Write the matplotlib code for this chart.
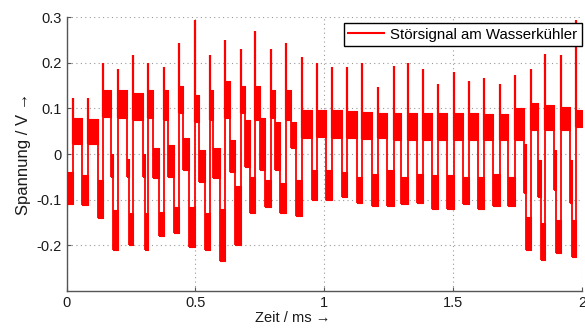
import matplotlib
matplotlib.use("Agg")
import matplotlib.pyplot as plt
from matplotlib.lines import Line2D

plt.rcParams['font.family'] = ['Liberation Sans', 'DejaVu Sans']

# ---- data (time in ms, voltage in V) ----
start_band = (-0.11, -0.04)            # low band before first spike
spike_t = [0.024, 0.082, 0.140, 0.201, 0.259, 0.318, 0.378, 0.436, 0.497, 0.555,
           0.614, 0.675, 0.733, 0.792, 0.851, 0.912, 0.970, 1.029, 1.089, 1.148,
           1.208, 1.269, 1.324, 1.384, 1.443, 1.503, 1.563, 1.621, 1.681, 1.741,
           1.800, 1.858, 1.919, 1.978]
spike_peak = [0.122, 0.122, 0.199, 0.186, 0.218, 0.200, 0.192, 0.243, 0.295, 0.218,
              0.250, 0.230, 0.269, 0.230, 0.243, 0.212, 0.200, 0.192, 0.192, 0.200,
              0.147, 0.193, 0.200, 0.186, 0.154, 0.181, 0.160, 0.166, 0.154, 0.173,
              0.186, 0.220, 0.218, 0.295]
high_end = [0.062, 0.122, 0.173, 0.236, 0.297, 0.335, 0.393, 0.453, 0.514, 0.570,
            0.636, 0.692, 0.750, 0.808, 0.872, 0.951, 1.006, 1.068, 1.126, 1.186,
            1.244, 1.298, 1.359, 1.419, 1.477, 1.537, 1.595, 1.653, 1.711, 1.775,
            1.830, 1.893, 1.952, 2.000]
high_lo = [0.023, 0.023, 0.082, 0.080, 0.075, 0.080, 0.075, 0.090, 0.070, 0.075,
           0.080, 0.090, 0.075, 0.080, 0.075, 0.035, 0.038, 0.035, 0.035, 0.034,
           0.035, 0.030, 0.030, 0.030, 0.030, 0.030, 0.030, 0.030, 0.030, 0.030,
           0.053, 0.053, 0.053, 0.060]
high_hi = [0.080, 0.076, 0.141, 0.140, 0.133, 0.140, 0.140, 0.150, 0.130, 0.140,
           0.160, 0.150, 0.150, 0.140, 0.140, 0.097, 0.097, 0.097, 0.095, 0.093,
           0.090, 0.090, 0.090, 0.090, 0.090, 0.090, 0.090, 0.088, 0.088, 0.100,
           0.111, 0.107, 0.103, 0.097]
# intermediate step (None = no intermediate step)
mid_end = [None, None, 0.180, 0.242, 0.303, 0.360, 0.417, 0.475, 0.537, 0.595,
           0.653, 0.711, 0.769, 0.827, 0.890, None, None, None, None, None,
           None, None, None, None, None, None, None, None, None, 1.783,
           1.841, 1.899, 1.961, None]
mid_lo = [None, None, -0.050, -0.050, -0.050, -0.053, -0.050, -0.035, -0.061, -0.053,
          -0.040, -0.028, -0.035, -0.035, 0.013, None, None, None, None, None,
          None, None, None, None, None, None, None, None, None, -0.086,
          -0.094, -0.080, -0.108, None]
mid_hi = [None, None, 0.000, -0.010, 0.000, 0.013, 0.020, 0.035, 0.009, 0.013,
          0.030, 0.075, 0.080, 0.070, 0.070, None, None, None, None, None,
          None, None, None, None, None, None, None, None, None, 0.023,
          -0.013, 0.008, -0.013, None]
low_lo = [-0.112, -0.140, -0.211, -0.200, -0.210, -0.180, -0.174, -0.205, -0.210, -0.235,
          -0.200, -0.130, -0.116, -0.130, -0.135, -0.100, -0.100, -0.094, -0.107, -0.115,
          -0.115, -0.110, -0.107, -0.120, -0.120, -0.110, -0.120, -0.115, -0.115, -0.211,
          -0.233, -0.218, -0.225, None]
low_hi = [-0.046, -0.057, -0.123, -0.130, -0.130, -0.127, -0.116, -0.116, -0.130, -0.120,
          -0.070, -0.050, -0.057, -0.064, -0.057, -0.035, -0.035, -0.039, -0.050, -0.043,
          -0.035, -0.050, -0.043, -0.047, -0.047, -0.050, -0.050, -0.043, -0.050, -0.138,
          -0.152, -0.145, -0.145, None]

x_ticks = [0, 0.5, 1, 1.5, 2]
x_ticklabels = ['0', '0.5', '1', '1.5', '2']
y_ticks = [-0.2, -0.1, 0, 0.1, 0.2, 0.3]
y_ticklabels = ['-0.2', '-0.1', '0', '0.1', '0.2', '0.3']

RED = '#ff0000'

fig = plt.figure(figsize=(5.85, 3.29), dpi=100)
ax = fig.add_axes([0.1137, 0.1164, 0.8813, 0.8310])

# build the list of bands (t0, t1, lo, hi)
bands = [(0.0, spike_t[0], start_band[0], start_band[1])]
for i in range(len(spike_t)):
    t0 = spike_t[i]
    bands.append((t0, high_end[i], high_lo[i], high_hi[i]))
    cur = high_end[i]
    if mid_end[i] is not None:
        bands.append((cur, mid_end[i], mid_lo[i], mid_hi[i]))
        cur = mid_end[i]
    if low_lo[i] is not None and i + 1 < len(spike_t):
        bands.append((cur, spike_t[i + 1], low_lo[i], low_hi[i]))

for (t0, t1, lo, hi) in bands:
    ax.fill_between([t0, t1], [lo, lo], [hi, hi], color=RED, linewidth=0.8,
                    edgecolor=RED, zorder=3)

# vertical transitions between consecutive bands
for a, b in zip(bands[:-1], bands[1:]):
    ymin = min(a[2], b[2])
    ymax = max(a[3], b[3])
    ax.vlines(b[0], ymin, ymax, color=RED, linewidth=1.3, zorder=3)

# spikes
for i, (t, p) in enumerate(zip(spike_t, spike_peak)):
    ax.vlines(t, high_lo[i], p, color=RED, linewidth=1.6, zorder=4)

ax.set_xlim(0, 2)
ax.set_ylim(-0.3, 0.3)
ax.set_xticks(x_ticks)
ax.set_xticklabels(x_ticklabels)
ax.set_yticks(y_ticks)
ax.set_yticklabels(y_ticklabels)
ax.grid(True, linestyle=(0, (1, 3)), color='#9a9a9a', linewidth=0.8)
ax.set_axisbelow(True)
for s in ['top', 'right']:
    ax.spines[s].set_visible(False)
for s in ['left', 'bottom']:
    ax.spines[s].set_color('#555555')
    ax.spines[s].set_linewidth(1.0)
ax.tick_params(direction='in', length=3, width=0.8, colors='#555555',
               labelcolor='#1a1a1a', labelsize=10.5)
ax.set_xlabel('Zeit / ms \u2192', fontsize=10.5, color='#1a1a1a', labelpad=1)
ax.xaxis.set_label_coords(0.438, -0.075)
ax.set_ylabel('Spannung / V \u2192', fontsize=12, color='#1a1a1a', labelpad=4)

handle = Line2D([], [], color=RED, linewidth=1.5)
leg = ax.legend([handle], ['St\u00f6rsignal am Wasserk\u00fchler'], loc='upper right',
                bbox_to_anchor=(1.005, 0.99), fontsize=10.8, fancybox=False,
                framealpha=1, edgecolor='black', handlelength=2.4,
                borderpad=0.3, handletextpad=0.4, borderaxespad=0.2)
leg.get_frame().set_linewidth(1.0)
leg.set_zorder(10)

fig.savefig('out.png', dpi=100)
